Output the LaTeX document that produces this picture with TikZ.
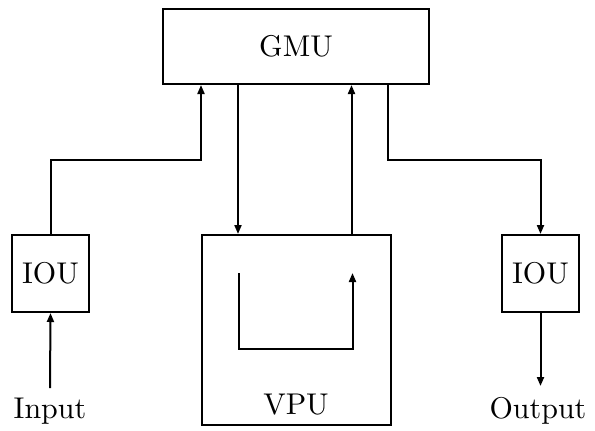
\documentclass[tikz,border=0pt]{standalone}
\usepackage{fontspec}
\usetikzlibrary{arrows.meta}
% the 10pt design of Latin Modern, scaled up, for the wide lettering
\newfontfamily\unitfont{lmroman10-regular}[Extension=.otf]
\begin{document}
\begin{tikzpicture}[x=0.5pt,y=-0.5pt,
  unit/.style={draw,line width=1pt,inner sep=0pt,font=\unitfont\fontsize{15}{18}\selectfont},
  lbl/.style={inner sep=0pt,anchor=base,font=\unitfont\fontsize{15}{18}\selectfont},
  wire/.style={line width=1pt},
  arr/.style={wire,-{Triangle[width=3.5pt,length=4.5pt]}}]
\useasboundingbox (0,0) rectangle (595,430);

% units
\node[unit,minimum width=133pt,minimum height=37.5pt] (gmu) at (296,46.5) {GMU};
\node[unit,minimum width=38.5pt,minimum height=38.5pt] (iouL) at (50.5,273.5) {IOU};
\node[unit,minimum width=38.5pt,minimum height=38.5pt] (iouR) at (540.5,273.5) {IOU};
\node[unit,minimum width=94.5pt,minimum height=95pt] (vpu) at (296.5,330) {};

% labels
\node[lbl] (vpulbl) at (296,414) {VPU};
\node[lbl] (inlbl) at (50,418) {Input};
\node[lbl] (outlbl) at (538,418) {Output};

% attachment points on the GMU
\path (gmu.south west) ++(39,0) coordinate (g1);
\path (gmu.south west) ++(76,0) coordinate (g2);
\path (gmu.south west) ++(189.5,0) coordinate (g3);
\path (gmu.south west) ++(226,0) coordinate (g4);
\coordinate (rail) at (0,160);

% buses
\draw[arr] (iouL.north) -- (iouL.north |- rail) -| (g1);
\draw[arr] (g2) -- (g2 |- vpu.north);
\draw[arr] (g3 |- vpu.north) -- (g3);
\draw[arr] (g4) -- (g4 |- rail) -| (iouR.north);

% input and output
\coordinate (inTop) at (50,388);
\coordinate (outEnd) at (540.5,386);
\draw[arr] (inTop) -- (iouL.south);
\draw[arr] (iouR.south) -- (outEnd);

% loop inside the VPU
\coordinate (la) at (239,273);
\coordinate (lb) at (352.5,273);
\coordinate (lbot) at (0,349);
\draw[arr] (la) -- (la |- lbot) -| (lb);
\end{tikzpicture}
\end{document}
